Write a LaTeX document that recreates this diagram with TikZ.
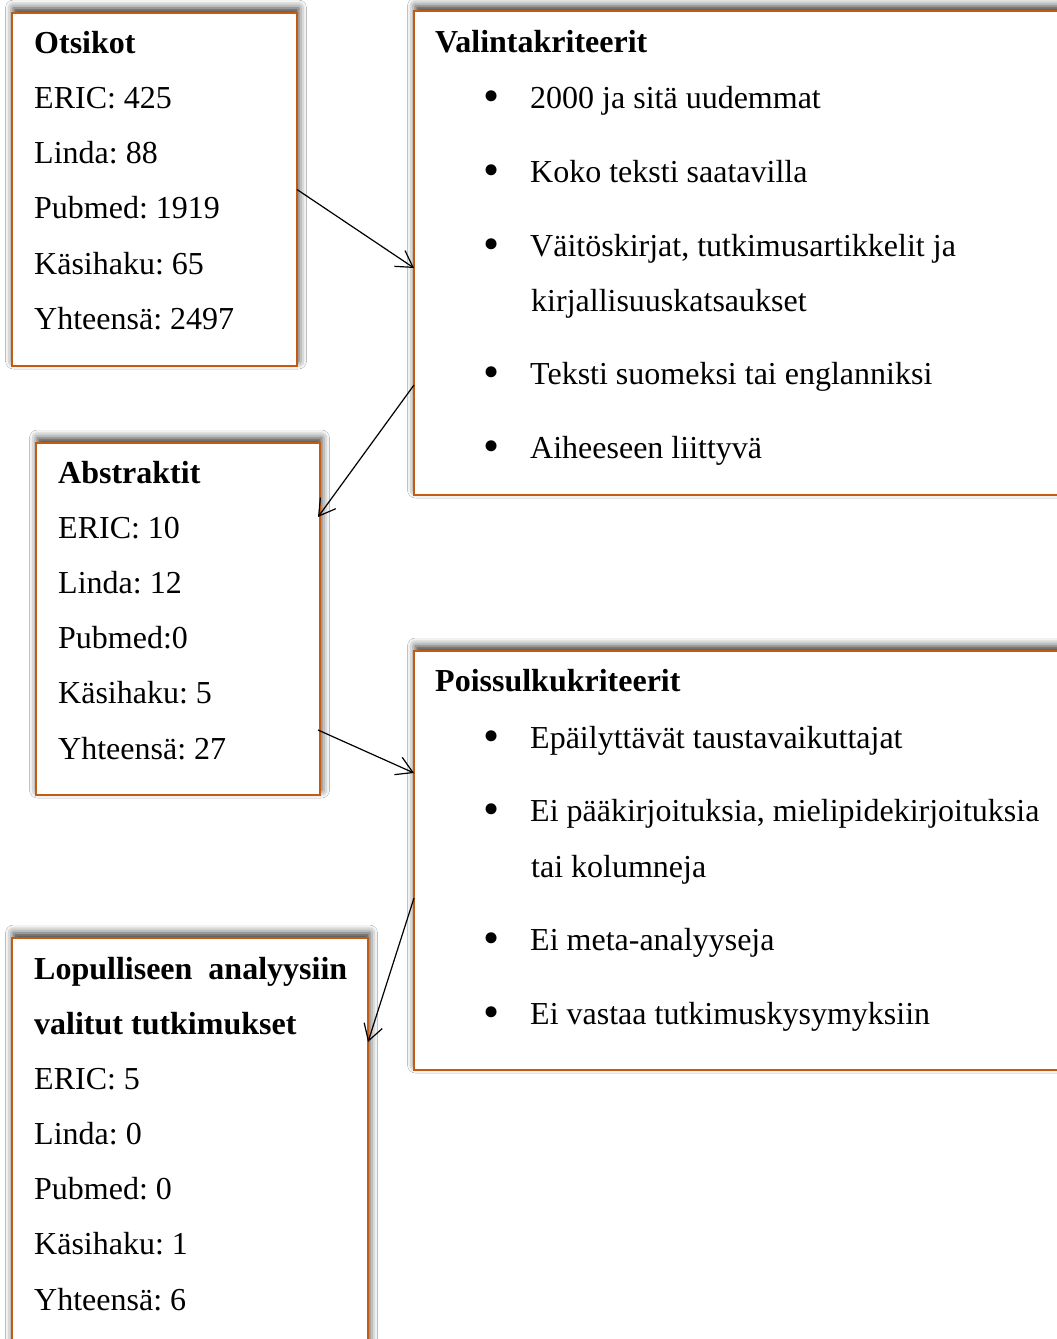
\documentclass[tikz,border=0pt]{standalone}
\usepackage{fontspec}
\setmainfont{Liberation Serif}
\usepackage{xcolor}
\usepackage{tikz}
\usetikzlibrary{arrows.meta,shadows.blur}
\definecolor{boxorange}{RGB}{197,90,17}
\newcommand{\bigbullet}{\makebox[47pt][l]{\fontsize{46}{46}\selectfont\raisebox{-3.5pt}{\textbullet}}}

\begin{document}
\frenchspacing
\begin{tikzpicture}[x=1pt,y=-1pt]
            \tikzset{box/.style = {draw=boxorange, line width=2.6pt, fill=white, inner sep=0pt, outer sep=0pt, anchor=north west,
                blur shadow={shadow xshift=1.5pt, shadow yshift=5pt, shadow blur radius=8pt, shadow opacity=80}}}
            \tikzset{txt/.style = {anchor=base west, inner sep=0pt, font=\fontsize{32}{38}\selectfont}}
            \tikzset{edge/.style = {-{Straight Barb[length=16pt,width=19pt]}, line width=1.2pt}}

            \clip (0,0) rectangle (1057,1339);
            \fill[white] (0,0) rectangle (1057,1339);

            % boxes
            \node[box, minimum width=285, minimum height=353] (otsikot) at (12,13) {};
            \node[box, minimum width=700, minimum height=484] (valinta) at (414,11) {};
            \node[box, minimum width=284, minimum height=352] (abstr) at (36,443) {};
            \node[box, minimum width=700, minimum height=419] (poiss) at (414,651) {};
            \node[box, minimum width=356, minimum height=450] (lopull) at (12,938) {};

            % otsikot
            \node[txt] (ots0) at (34,53) {\textbf{Otsikot}};
            \foreach \t [count=\i] in {ERIC: 425, Linda: 88, Pubmed: 1919, Käsihaku: 65, Yhteensä: 2497}
            {
              \node[txt] (ots\i) at (34,{53+55.3*\i}) {\t};
            }

            % valintakriteerit
            \node[txt] (val0) at (435,52) {\textbf{Valintakriteerit}};
            \foreach \y/\t [count=\i] in {108/2000 ja sitä uudemmat, 182/Koko teksti saatavilla,
                256/{Väitöskirjat, tutkimusartikkelit ja}, 384/Teksti suomeksi tai englanniksi, 458/Aiheeseen liittyvä}
            {
              \node[txt] (val\i) at (483,\y) {\bigbullet\t};
            }
            \node[txt] (val3b) at (531,311) {kirjallisuuskatsaukset};

            % abstraktit
            \node[txt] (abs0) at (58,483) {\textbf{Abstraktit}};
            \foreach \t [count=\i] in {ERIC: 10, Linda: 12, Pubmed:0, Käsihaku: 5, Yhteensä: 27}
            {
              \node[txt] (abs\i) at (58,{483+55.2*\i}) {\t};
            }

            % poissulkukriteerit
            \node[txt] (poi0) at (435,691) {\textbf{Poissulkukriteerit}};
            \foreach \y/\t [count=\i] in {748/Epäilyttävät taustavaikuttajat, 821/{Ei pääkirjoituksia, mielipidekirjoituksia},
                950/Ei meta-analyyseja, 1024/Ei vastaa tutkimuskysymyksiin}
            {
              \node[txt] (poi\i) at (483,\y) {\bigbullet\t};
            }
            \node[txt] (poi2b) at (531,877) {tai kolumneja};

            % lopulliseen analyysiin
            \node[txt] (lop0) at (34,979) {\makebox[313pt][s]{\textbf{Lopulliseen analyysiin}}};
            \node[txt] (lop00) at (34,1034) {\textbf{valitut tutkimukset}};
            \foreach \t [count=\i] in {ERIC: 5, Linda: 0, Pubmed: 0, Käsihaku: 1, Yhteensä: 6}
            {
              \node[txt] (lop\i) at (34,{1034+55.2*\i}) {\t};
            }

            % arrows
            \draw[edge] (otsikot.east) to ([yshift=-257pt]valinta.north west);
            \draw[edge] ([yshift=-374pt]valinta.north west) to ([xshift=-2pt,yshift=-74pt]abstr.north east);
            \draw[edge] ([xshift=-2pt,yshift=-287pt]abstr.north east) to ([yshift=-122pt]poiss.north west);
            \draw[edge] ([yshift=-247pt]poiss.north west) to ([yshift=-104pt]lopull.north east);

          \end{tikzpicture}
\end{document}
